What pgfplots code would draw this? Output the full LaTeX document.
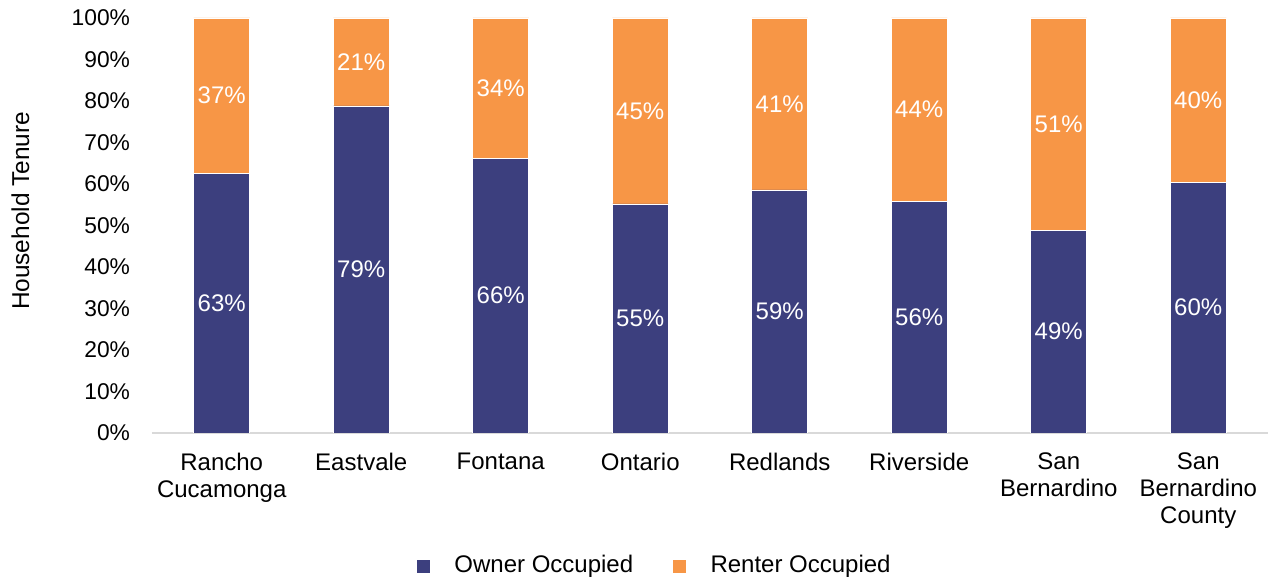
\documentclass[border=0pt]{standalone}
\usepackage{fontspec}
\setmainfont{Liberation Sans}
\usepackage{pgfplots}
\pgfplotsset{compat=1.18}
\definecolor{owner}{HTML}{3C3F7E}
\definecolor{renter}{HTML}{F79646}
\definecolor{axisgray}{HTML}{D9D9D9}
\newcommand{\ff}{\fontsize{11.4}{13.5}\selectfont}
\newcommand{\fg}{\fontsize{12}{13.5}\selectfont}
\begin{document}
\ff
\begin{tikzpicture}
\begin{axis}[name=ax,
  width=558pt, height=207.5pt, scale only axis,
  ybar stacked, bar width=28pt,
  xmin=-0.5, xmax=7.5, ymin=0, ymax=100,
  xtick={0,...,7},
  xticklabels={{Rancho\\Cucamonga},Eastvale,Fontana,Ontario,Redlands,Riverside,{San\\Bernardino},{San\\Bernardino\\County}},
  ytick={0,10,...,100},
  yticklabel={\pgfmathprintnumber{\tick}\%},
  /pgf/number format/assume math mode=true,
  major tick length=0pt,
  axis x line*=bottom, axis y line*=left,
  x axis line style={axisgray, line width=0.75pt, -},
  y axis line style={draw=none},
  every tick label/.append style={font=\ff, text=black},
  xticklabel style={align=center, yshift=-6pt, font=\fg},
  yticklabel style={xshift=-7pt},
  ylabel={Household Tenure},
  ylabel style={at={(axis description cs:-0.118,0.535)}, anchor=center, font=\fontsize{12.2}{14}\selectfont},
  nodes near coords={\pgfmathprintnumber[fixed,precision=0]{\pgfplotspointmeta}\%},
  every node near coord/.append style={text=white, anchor=center, font=\fg},
  legend style={at={(axis description cs:0.4515,-0.3205)}, anchor=center, draw=none, font=\fg,
    legend columns=2, /tikz/every even column/.append style={column sep=18pt}},
]
\addplot[fill=owner, draw=white, line width=0.3pt,
  legend image code/.code={\fill[owner, draw=none] (0pt,-3.25pt) rectangle (6.5pt,3.25pt); \path (16.5pt,0pt);}]
  coordinates {(0,62.6) (1,78.8) (2,66.2) (3,55.2) (4,58.6) (5,55.8) (6,48.8) (7,60.4)};
\addlegendentry{Owner Occupied}
\addplot[fill=renter, draw=white, line width=0.3pt,
  legend image code/.code={\fill[renter, draw=none] (0pt,-3.25pt) rectangle (6.5pt,3.25pt); \path (16.5pt,0pt);}]
  coordinates {(0,37.4) (1,21.2) (2,33.8) (3,44.8) (4,41.4) (5,44.2) (6,51.2) (7,39.6)};
\addlegendentry{Renter Occupied}
\end{axis}
\pgfresetboundingbox
\path[use as bounding box] ([shift={(-76pt,-74.5pt)}]ax.south west) rectangle ([shift={(1.5pt,9pt)}]ax.north east);
\end{tikzpicture}
\end{document}
